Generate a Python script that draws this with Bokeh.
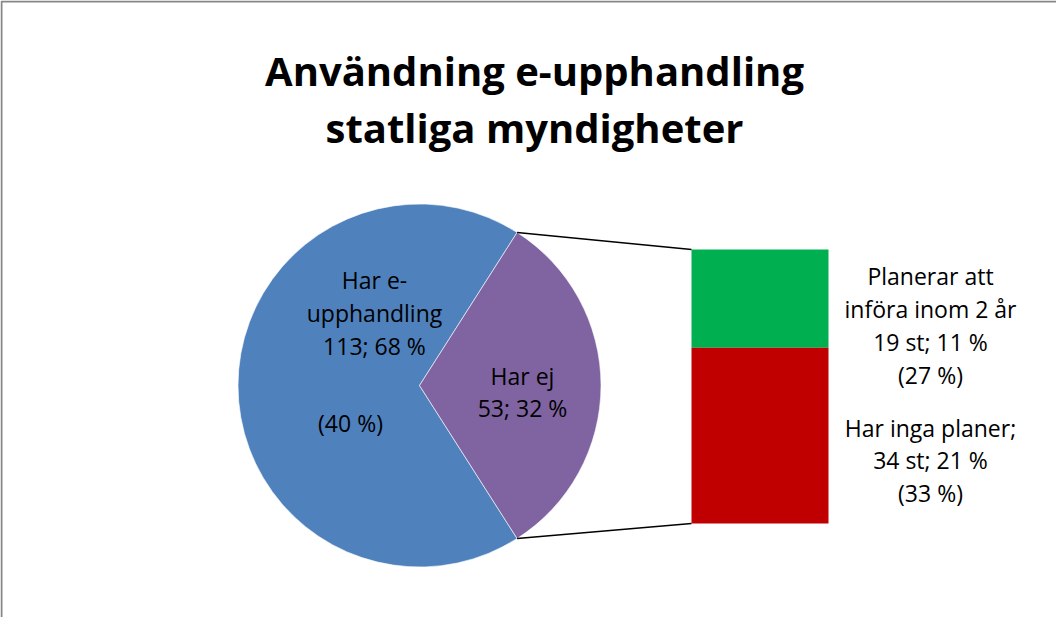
import math
from bokeh.plotting import figure
from bokeh.models import Range1d
from bokeh.core.properties import value
from bokeh.embed import file_html
from bokeh.resources import INLINE

# ---- data ----
title_lines = ["Användning e-upphandling", "statliga myndigheter"]
pie_names = ["Har e-\nupphandling", "Har ej"]
pie_counts = [113, 53]
pie_pcts = [68, 32]
pie_extra = ["(40 %)", ""]
pie_colors = ["#4F81BD", "#8064A2"]
bar_names = ["Planerar att\ninföra inom 2 år", "Har inga planer;"]
bar_counts = [19, 34]
bar_pcts = [11, 21]
bar_extra = ["(27 %)", "(33 %)"]
bar_colors = ["#00B050", "#C00000"]

W, H = 1056, 617
FONT = "Open Sans"

def Y(py):
    # page pixel y -> data y
    return 625 - py

p = figure(width=W, height=H, output_backend="svg", toolbar_location=None,
           x_range=Range1d(8, 8 + W), y_range=Range1d(0, H), min_border=0)
p.axis.visible = False
p.grid.visible = False
p.outline_line_color = None
p.background_fill_color = "white"
p.border_fill_color = "white"

# frame (top and left edges visible)
p.line([9, 9, 1064], [Y(625), Y(9), Y(9)], line_color="#878787", line_width=2)

# ---- pie ----
cx, cy, r = 427, Y(393), 181.5
total = sum(pie_counts)
half = math.pi * pie_counts[1] / total
# "Har ej" slice centred on the right side, "Har e-upphandling" the rest
p.wedge(x=[cx], y=[cy], radius=r, radius_units="screen",
        start_angle=[half], end_angle=[2 * math.pi - half],
        fill_color=pie_colors[0], line_color="white", line_width=0.6)
p.wedge(x=[cx], y=[cy], radius=r, radius_units="screen",
        start_angle=[-half], end_angle=[half],
        fill_color=pie_colors[1], line_color="white", line_width=0.6)

# ---- bar ----
bx0, bx1 = 699, 836
btop, bbot = Y(257), Y(531)
bar_total = sum(bar_counts)
scale = (btop - bbot) / bar_total
# bottom segment = "Har inga planer", top = "Planerar"
lo = bbot
tops, bots = [], []
for c in reversed(bar_counts):
    bots.append(lo)
    tops.append(lo + c * scale)
    lo += c * scale
tops = list(reversed(tops)); bots = list(reversed(bots))
p.quad(left=[bx0] * 2, right=[bx1] * 2, top=tops, bottom=bots,
       fill_color=bar_colors, line_color=None)

# connector lines
ex = cx + r * math.cos(half)
p.line([ex, bx0], [cy + r * math.sin(half), btop], line_color="black", line_width=1.5)
p.line([ex, bx0], [cy - r * math.sin(half), bbot], line_color="black", line_width=1.5)

# ---- texts ----
def put(lines, x, first_base, step, size, style="normal"):
    xs = [x] * len(lines)
    ys = [Y(first_base + i * step) for i in range(len(lines))]
    p.text(x=xs, y=ys, text=lines, text_align="center", text_baseline="alphabetic",
           text_font=value(FONT), text_font_size=f"{size}px",
           text_font_style=style, text_color="black")

put(title_lines, 542, 78, 57, 40, "bold")

LS = 33
FS = 23
pie_label0 = (pie_names[0] + f"\n{pie_counts[0]}; {pie_pcts[0]} %").split("\n")
put(pie_label0, 382, 287, LS, FS)
put([pie_extra[0]], 358, 430, LS, FS)
pie_label1 = (pie_names[1] + f"\n{pie_counts[1]}; {pie_pcts[1]} %").split("\n")
put(pie_label1, 530, 383, 32, FS)

bar_label0 = (bar_names[0] + f"\n{bar_counts[0]} st; {bar_pcts[0]} %\n{bar_extra[0]}").split("\n")
put(bar_label0, 938, 283, 33, FS)
bar_label1 = (bar_names[1] + f"\n{bar_counts[1]} st; {bar_pcts[1]} %\n{bar_extra[1]}").split("\n")
put(bar_label1, 938, 435, 32.5, FS)

open("out.html", "w").write(file_html(p, INLINE))
